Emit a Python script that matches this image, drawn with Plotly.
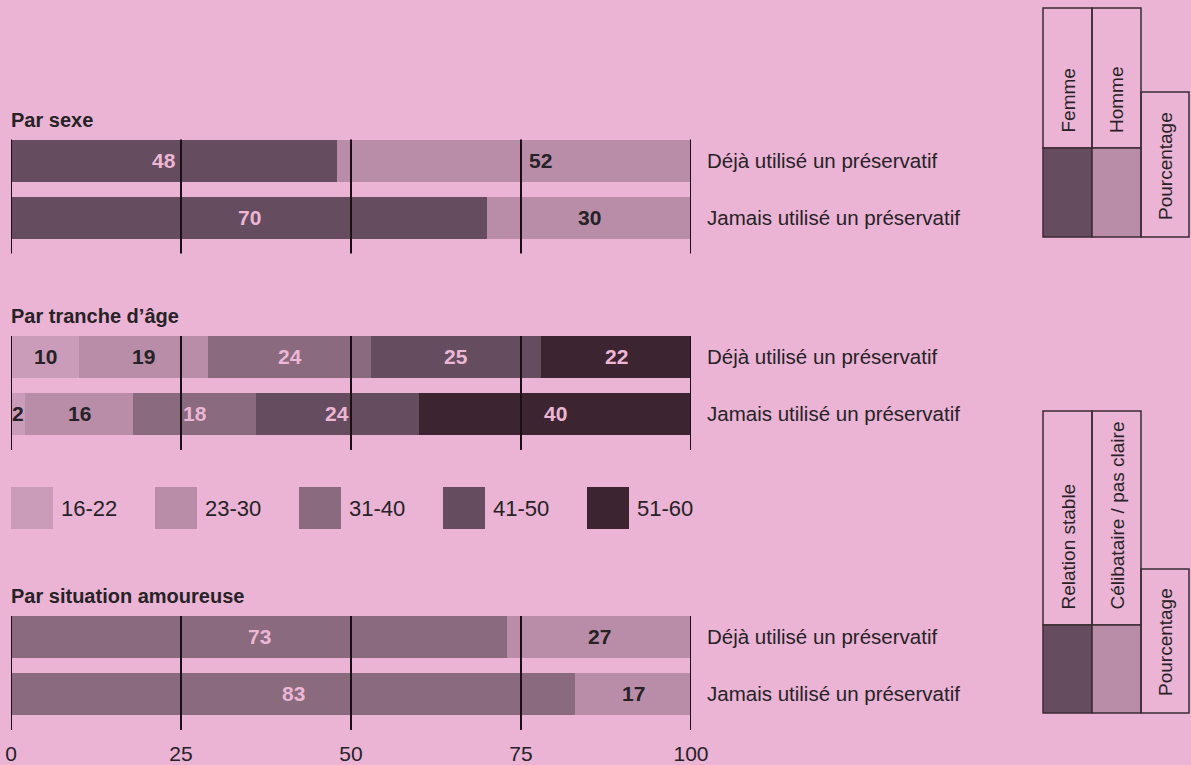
import numpy as np
import plotly.graph_objects as go

# ---------------- data ----------------
row_labels = ["Déjà utilisé un préservatif", "Jamais utilisé un préservatif"]

group_titles = ["Par sexe", "Par tranche d’âge", "Par situation amoureuse"]

sexe_categories = ["Femme", "Homme"]
sexe_femme = [48, 70]
sexe_homme = [52, 30]

age_categories = ["16-22", "23-30", "31-40", "41-50", "51-60"]
age_16_22 = [10, 2]
age_23_30 = [19, 16]
age_31_40 = [24, 18]
age_41_50 = [25, 24]
age_51_60 = [22, 40]

situation_categories = ["Relation stable", "Célibataire / pas claire"]
situation_stable = [73, 83]
situation_celib = [27, 17]

x_ticks = [0, 25, 50, 75, 100]
legend_unit = "Pourcentage"

# ---------------- style ----------------
W, H = 1191, 765
BG = "#ebb4d4"
C_1622 = "#cb9cb9"
C_2330 = "#b98ca7"
C_3140 = "#8a6a7d"
C_4150 = "#654c5e"
C_5160 = "#3d2431"
TXT = "#262226"
PINK_TXT = "#ecb6d5"
GRID = "#1c0e16"
BOX = "#3b2b35"
FONT = "Liberation Sans, Arial, Helvetica, sans-serif"


def dom_y(y):
    return 1 - y / H


groups = [
    dict(cats=sexe_categories, vals=[sexe_femme, sexe_homme],
         colors=[C_4150, C_2330], dark=[True, False], top=139.5),
    dict(cats=age_categories, vals=[age_16_22, age_23_30, age_31_40, age_41_50, age_51_60],
         colors=[C_1622, C_2330, C_3140, C_4150, C_5160],
         dark=[False, False, True, True, True], top=336),
    dict(cats=situation_categories, vals=[situation_stable, situation_celib],
         colors=[C_3140, C_2330], dark=[True, False], top=616),
]
# label nudges (pixels) to keep numbers clear of grid lines
label_shift = {(0, 0, 0): -10, (0, 1, 0): 26}

fig = go.Figure()
annotations = []
shapes = []

DOM_H = 114  # px height of each panel (bars + grid tail)
UNIT = 57.0
BAR_W = 41.5 / UNIT
y_top = -BAR_W / 2
y_bot = y_top + DOM_H / UNIT

layout_axes = {}
for g, grp in enumerate(groups):
    k = "" if g == 0 else str(g + 1)
    xa, ya = "x" + k, "y" + k
    ypos = list(range(len(row_labels)))
    cum = np.zeros(len(row_labels))
    for c, (cat, vals, col, dk) in enumerate(zip(grp["cats"], grp["vals"], grp["colors"], grp["dark"])):
        fig.add_trace(go.Bar(
            x=vals, y=ypos, orientation="h", name=cat, width=BAR_W,
            marker=dict(color=col, line=dict(width=0)),
            xaxis=xa, yaxis=ya, showlegend=False, hoverinfo="x+name",
        ))
        for r, v in enumerate(vals):
            annotations.append(dict(
                x=cum[r] + v / 2, y=r, xref=xa, yref=ya, text=f"<b>{v}</b>",
                showarrow=False, xanchor="center", yanchor="middle",
                xshift=label_shift.get((g, c, r), 0),
                font=dict(family=FONT, size=21, color=PINK_TXT if dk else TXT),
            ))
        cum += np.array(vals)
    # row labels at right
    for r, lab in enumerate(row_labels):
        annotations.append(dict(
            x=100, y=r, xref=xa, yref=ya, text=lab, showarrow=False,
            xanchor="left", yanchor="middle", xshift=14,
            font=dict(family=FONT, size=20.5, color=TXT),
        ))
    # grid lines over bars
    for t in x_ticks:
        shapes.append(dict(type="line", xref=xa, yref=ya + " domain", x0=t, x1=t, y0=0, y1=1,
                           line=dict(color=GRID, width=2), layer="above"))
    top = grp["top"]
    layout_axes["xaxis" + k] = dict(
        domain=[11 / W, 691 / W], range=[0, 100], anchor=ya,
        showgrid=False, zeroline=False, showline=False,
        tickvals=x_ticks, ticktext=[str(t) for t in x_ticks],
        showticklabels=(g == 2), ticks="", ticklabelstandoff=9,
        tickfont=dict(family=FONT, size=21, color=TXT),
    )
    layout_axes["yaxis" + k] = dict(
        domain=[dom_y(top + DOM_H), dom_y(top)], range=[y_bot, y_top], anchor=xa,
        showgrid=False, zeroline=False, showline=False, showticklabels=False,
    )

# full-figure overlay axes (pixel units) for titles, keys and legend
layout_axes["xaxis4"] = dict(domain=[0, 1], range=[0, W], visible=False, anchor="y4", fixedrange=True)
layout_axes["yaxis4"] = dict(domain=[0, 1], range=[H, 0], visible=False, anchor="x4", fixedrange=True)
fig.add_trace(go.Scatter(x=[0], y=[0], mode="markers", marker=dict(opacity=0),
                         xaxis="x4", yaxis="y4", showlegend=False, hoverinfo="skip"))


def pix_ann(x, y, text, size, **kw):
    d = dict(x=x, y=y, xref="x4", yref="y4", text=text, showarrow=False,
             font=dict(family=FONT, size=size, color=TXT))
    d.update(kw)
    annotations.append(d)


def pix_rect(x0, y0, x1, y1, fill, line_w=0):
    shapes.append(dict(type="rect", xref="x4", yref="y4", x0=x0, x1=x1, y0=y0, y1=y1,
                       fillcolor=fill,
                       line=dict(color=BOX, width=line_w) if line_w else dict(width=0)))


# group titles
for title, yc in zip(group_titles, [120, 316, 596]):
    pix_ann(9, yc, f"<b>{title}</b>", 20, xanchor="left", yanchor="middle")

# age legend row
for i, (cat, col) in enumerate(zip(age_categories, groups[1]["colors"])):
    x0 = 11 + 144 * i
    pix_rect(x0, 487, x0 + 42, 529, col)
    pix_ann(x0 + 48, 508, cat, 22, xanchor="left", yanchor="middle")


# right-hand key boxes
def key_box(cats, colors, top, split, bottom, pct_top):
    cols = [(1043, 1092), (1092, 1141)]
    for (xl, xr), cat, col in zip(cols, cats, colors):
        pix_rect(xl, top, xr, split, "rgba(0,0,0,0)", 1.5)
        pix_rect(xl, split, xr, bottom, col, 1.5)
        pix_ann((xl + xr) / 2, split - 13, cat, 19, textangle=-90,
                xanchor="center", yanchor="bottom")
    pix_rect(1141, pct_top, 1189, bottom, "rgba(0,0,0,0)", 1.5)
    pix_ann(1165, bottom - 15, legend_unit, 19, textangle=-90,
            xanchor="center", yanchor="bottom")


key_box(sexe_categories, [C_4150, C_2330], 8, 148, 237, 92)
key_box(situation_categories, [C_4150, C_2330], 411, 625, 713, 569)

fig.update_layout(
    width=W, height=H, margin=dict(l=0, r=0, t=0, b=0, autoexpand=False),
    paper_bgcolor=BG, plot_bgcolor="rgba(0,0,0,0)", barmode="stack", bargap=0,
    annotations=annotations, shapes=shapes, showlegend=False,
    font=dict(family=FONT, color=TXT),
    **layout_axes,
)

fig.write_html("out.html")
